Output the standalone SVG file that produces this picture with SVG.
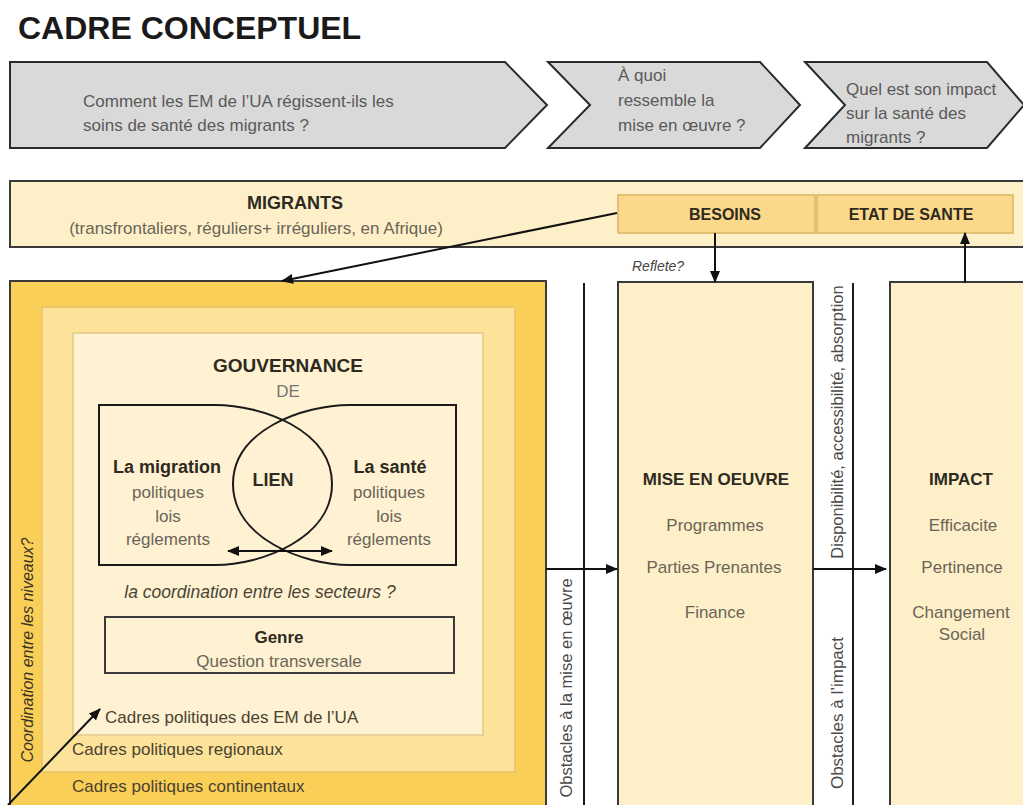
<svg xmlns="http://www.w3.org/2000/svg" width="1023" height="805" viewBox="0 0 1023 805">
<defs>
<style>
text{font-family:"Liberation Sans",Arial,sans-serif;}
.t{font-size:17px;fill:#5a5a5a;}
.b{font-weight:bold;fill:#2e2a22;}
.g{font-size:17px;fill:#6a6458;}
.d{font-size:17px;fill:#4a4232;}
.chev{fill:#d9d9d9;stroke:#2a2a2a;stroke-width:2;stroke-linejoin:miter;}
.cream{fill:#fdf0c8;stroke:#3a3a3a;stroke-width:2;}
.ln{stroke:#1a1a1a;stroke-width:2;fill:none;}
.arr{stroke:#111;stroke-width:2;fill:none;marker-end:url(#ah);}
</style>
<marker id="ah" viewBox="0 0 12 10" refX="11" refY="5" markerWidth="12" markerHeight="10" markerUnits="userSpaceOnUse" orient="auto-start-reverse">
<path d="M0,0 L12,5 L0,10 z" fill="#111"/>
</marker>
</defs>
<rect width="1023" height="805" fill="#ffffff"/>

<text x="18" y="39" font-size="32" font-weight="bold" fill="#1a1a1a">CADRE CONCEPTUEL</text>

<g id="q1">
<polygon class="chev" points="10,62 505,62 547,105 505,148 10,148"/>
<text class="t" x="83" y="107" font-size="18">Comment les EM de l’UA régissent-ils les</text>
<text class="t" x="83" y="131" font-size="18">soins de santé des migrants ?</text>
</g>
<g id="q2">
<polygon class="chev" points="548,62 760,62 800,105 760,148 548,148 590,105"/>
<text class="t" x="618" y="81" font-size="17">À quoi</text>
<text class="t" x="618" y="106" font-size="17">ressemble la</text>
<text class="t" x="618" y="131" font-size="17">mise en œuvre ?</text>
</g>
<g id="q3">
<polygon class="chev" points="805,62 987,62 1024,105 987,148 805,148 845,105"/>
<text class="t" x="846" y="95" font-size="17">Quel est son impact</text>
<text class="t" x="846" y="119" font-size="17">sur la santé des</text>
<text class="t" x="846" y="143" font-size="17">migrants ?</text>
</g>

<g id="migrants">
<rect class="cream" x="10" y="181" width="1030" height="66"/>
<text class="b" x="295" y="209" font-size="18" text-anchor="middle">MIGRANTS</text>
<text class="g" x="256" y="234" text-anchor="middle">(transfrontaliers, réguliers+ irréguliers, en Afrique)</text>
</g>
<g id="besoins">
<rect x="618" y="195" width="197" height="38" fill="#fbd88a" stroke="#d9b464" stroke-width="1.5"/>
<text class="b" x="725" y="220" font-size="16" text-anchor="middle">BESOINS</text>
</g>
<g id="etat">
<rect x="817" y="195" width="196" height="38" fill="#fbd88a" stroke="#d9b464" stroke-width="1.5"/>
<text class="b" x="911" y="220" font-size="16" text-anchor="middle">ETAT DE SANTE</text>
</g>

<g id="gouvernance">
<rect x="10" y="281" width="536" height="540" fill="#f9cf57" stroke="#3a3a3a" stroke-width="2"/>
<rect x="42" y="307" width="473" height="465" fill="#fde39a" stroke="#e8c46a" stroke-width="1.5"/>
<rect x="73" y="333" width="410" height="402" fill="#fef2d3" stroke="#e2c888" stroke-width="1.5"/>
<text class="b" x="288" y="372" font-size="19" text-anchor="middle">GOUVERNANCE</text>
<text x="288" y="397" font-size="17" fill="#777" text-anchor="middle">DE</text>
<text class="d" x="105" y="723">Cadres politiques des EM de l’UA</text>
<text class="d" x="72" y="755">Cadres politiques regionaux</text>
<text class="d" x="72" y="792">Cadres politiques continentaux</text>
<text x="33" y="650" font-size="16" font-style="italic" fill="#3a3424" text-anchor="middle" transform="rotate(-90 33 650)">Coordination entre les niveaux?</text>
</g>

<g id="lien">
<path class="ln" d="M99,405 L215,405 C262,405 332,430 332,484 C332,538 262,565 215,565 L99,565 Z"/>
<path class="ln" d="M456,405 L350,405 C303,405 233,430 233,484 C233,538 303,565 350,565 L456,565 Z"/>
<text class="b" x="167" y="473" font-size="18" text-anchor="middle">La migration</text>
<text class="g" x="168" y="498" text-anchor="middle">politiques</text>
<text class="g" x="168" y="522" text-anchor="middle">lois</text>
<text class="g" x="168" y="545" text-anchor="middle">réglements</text>
<text class="b" x="273" y="486" font-size="18" text-anchor="middle">LIEN</text>
<text class="b" x="390" y="473" font-size="18" text-anchor="middle">La santé</text>
<text class="g" x="389" y="498" text-anchor="middle">politiques</text>
<text class="g" x="389" y="522" text-anchor="middle">lois</text>
<text class="g" x="389" y="545" text-anchor="middle">réglements</text>
</g>
<text x="260" y="598" font-size="17.5" font-style="italic" fill="#4a4436" text-anchor="middle">la coordination entre les secteurs ?</text>

<g id="genre">
<rect x="105" y="617" width="349" height="56" fill="none" stroke="#3a3a3a" stroke-width="2"/>
<text class="b" x="279" y="643" font-size="17" text-anchor="middle">Genre</text>
<text class="g" x="279" y="667" font-size="16" text-anchor="middle">Question transversale</text>
</g>

<g id="obstacles1">
<line class="ln" x1="584" y1="283" x2="584" y2="805"/>
<text x="572" y="688" font-size="16.5" fill="#4a4a4a" text-anchor="middle" transform="rotate(-90 572 688)">Obstacles à la mise en œuvre</text>
</g>

<g id="mise">
<rect class="cream" x="618" y="282" width="195" height="540"/>
<text class="b" x="716" y="485" font-size="17" text-anchor="middle">MISE EN OEUVRE</text>
<text class="g" x="715" y="531" text-anchor="middle">Programmes</text>
<text class="g" x="714" y="573" text-anchor="middle">Parties Prenantes</text>
<text class="g" x="715" y="618" text-anchor="middle">Finance</text>
</g>

<g id="obstacles2">
<line class="ln" x1="853" y1="283" x2="853" y2="805"/>
<text x="843" y="422" font-size="16.5" fill="#4a4a4a" text-anchor="middle" transform="rotate(-90 843 422)">Disponibilité, accessibilité, absorption</text>
<text x="843" y="713" font-size="17" fill="#4a4a4a" text-anchor="middle" transform="rotate(-90 843 713)">Obstacles à l’impact</text>
</g>

<g id="impact">
<rect class="cream" x="890" y="282" width="150" height="540"/>
<text class="b" x="961" y="485" font-size="17" text-anchor="middle">IMPACT</text>
<text class="g" x="963" y="531" text-anchor="middle">Efficacite</text>
<text class="g" x="962" y="573" text-anchor="middle">Pertinence</text>
<text class="g" x="961" y="618" text-anchor="middle">Changement</text>
<text class="g" x="962" y="640" text-anchor="middle">Social</text>
</g>

<g id="connectors">
<line class="arr" x1="617" y1="213" x2="282" y2="281"/>
<line class="arr" x1="715" y1="233" x2="715" y2="282"/>
<line class="arr" x1="965" y1="283" x2="965" y2="233"/>
<line class="arr" x1="546" y1="569" x2="617" y2="569"/>
<line class="arr" x1="813" y1="569" x2="886" y2="569"/>
<line class="arr" x1="8" y1="805" x2="100" y2="709"/>
<line stroke="#111" stroke-width="2" x1="228" y1="551" x2="332" y2="551" marker-start="url(#ah)" marker-end="url(#ah)"/>
<text x="632" y="271" font-size="14" font-style="italic" fill="#444">Reflete?</text>
</g>
</svg>
